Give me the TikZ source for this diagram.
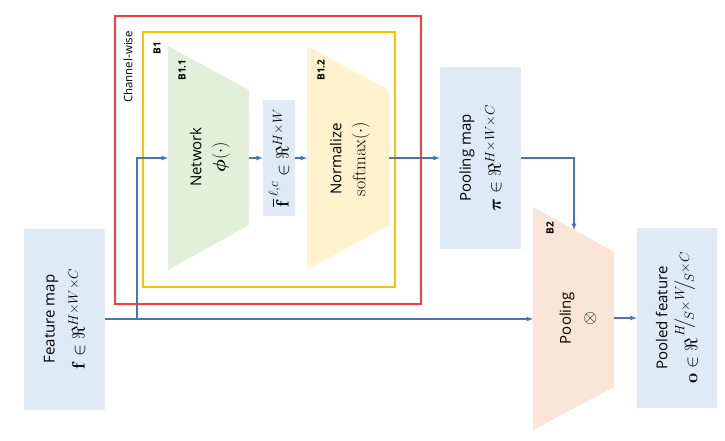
\RequirePackage{fix-cm}
\documentclass[tikz,border=0pt]{standalone}
\usepackage{amsmath}
\usepackage{bm}
\usepackage[no-math]{fontspec}
\setsansfont{Open Sans}
\usetikzlibrary{arrows}
\DeclareMathSizes{18}{18}{13.5}{10}
\newcommand{\mathsize}{\fontsize{18}{24}\selectfont}
\definecolor{mapblue}{HTML}{DEEBF7}
\definecolor{netgreen}{HTML}{E2F0D9}
\definecolor{softyellow}{HTML}{FFF2CC}
\definecolor{poolpeach}{HTML}{FBE5D6}
\definecolor{flowblue}{HTML}{4472C4}
\definecolor{chred}{HTML}{FF3B3B}
\definecolor{chyellow}{HTML}{FFC000}

\begin{document}
\begin{tikzpicture}[x=1pt,y=-1pt,>=latex,
                    every node/.style={font=\sffamily\fontsize{15}{24}\selectfont}]
  \tikzstyle{flow}=[->,draw=flowblue,line width=1.2pt]
  \tikzstyle{mapbox}=[fill=mapblue,rotate=90,align=center,inner sep=0pt,
                      minimum width=181pt,minimum height=81pt,
                      font=\sffamily\fontsize{15}{30}\selectfont]
  \tikzstyle{txt}=[rotate=90,align=center,inner sep=0pt]
  \tikzstyle{tag}=[rotate=90,inner sep=0pt,font=\sffamily\bfseries\fontsize{10}{12}\selectfont]

  \useasboundingbox (0,0) rectangle (725,441);

  \draw[chred,line width=1.5pt] (115,16) rectangle (421,304);
  \draw[chyellow,line width=1.3pt] (143,32) rectangle (395,287);
  \node[rotate=90,font=\sffamily\fontsize{11.5}{14}\selectfont] (cw) at (128,67) {Channel-wise};
  \node[tag] (b1) at (157,48) {B1};

  \fill[netgreen] (168,46) -- (249,90) -- (249,225) -- (168,270) -- cycle;
  \node[tag] (b11) at (182,70) {B1.1};
  \node[txt] (net) at (210,157) {Network\\{\mathsize$\bm{\phi}(\cdot)$}};
  \coordinate (net-in) at (168,158);
  \coordinate (net-out) at (249,158);

  \node[fill=mapblue,rotate=90,inner sep=0pt,minimum width=115pt,minimum height=32pt,font=\mathsize]
       (fbar) at (279,158) {$\overline{\mathbf{f}}^{\,\ell,c}\in\Re^{H\times W}$};

  \fill[softyellow] (307,46) -- (389,90) -- (389,225) -- (307,270) -- cycle;
  \node[tag] (b12) at (321,70) {B1.2};
  \node[txt] (soft) at (350,159) {Normalize\\{\mathsize$\mathrm{softmax}(\cdot)$}};
  \coordinate (soft-in) at (307,158);
  \coordinate (soft-out) at (389,158);

  \node[mapbox] (fm) at (64.5,319) {Feature map\\{\mathsize$\mathbf{f}\in\Re^{H\times W\times C}$}};
  \node[mapbox] (pmap) at (480.5,158) {Pooling map\\{\mathsize$\bm{\pi}\in\Re^{H\times W\times C}$}};
  \node[mapbox,minimum width=180pt,minimum height=80pt] (pf) at (677,318)
       {Pooled feature\\{\mathsize$\mathbf{o}\in\Re^{\,{}^{\scriptstyle H}\!\!\big/\!_{\scriptstyle S}\times{}^{\scriptstyle W}\!\!\big/\!_{\scriptstyle S}\times C}$}};

  \fill[poolpeach] (533,207) -- (614,252) -- (614,387) -- (533,430) -- cycle;
  \node[tag] (b2) at (550,228) {B2};
  \node[txt] (pool) at (578,318) {Pooling\\{\mathsize$\otimes$}};
  \coordinate (pool-in) at (533,319);
  \coordinate (pool-top) at (574,230);
  \coordinate (pool-out) at (614,318);
  \coordinate (split) at (137,319);

  \draw[flow] (fm.south) -- (pool-in);
  \draw[flow] (split) |- (net-in);
  \draw[flow] (net-out) -- (fbar.north);
  \draw[flow] (fbar.south) -- (soft-in);
  \draw[flow] (soft-out) -- (pmap.north);
  \draw[flow] (pmap.south) -| (pool-top);
  \draw[flow] (pool-out) -- (pf.north);
\end{tikzpicture}
\end{document}
